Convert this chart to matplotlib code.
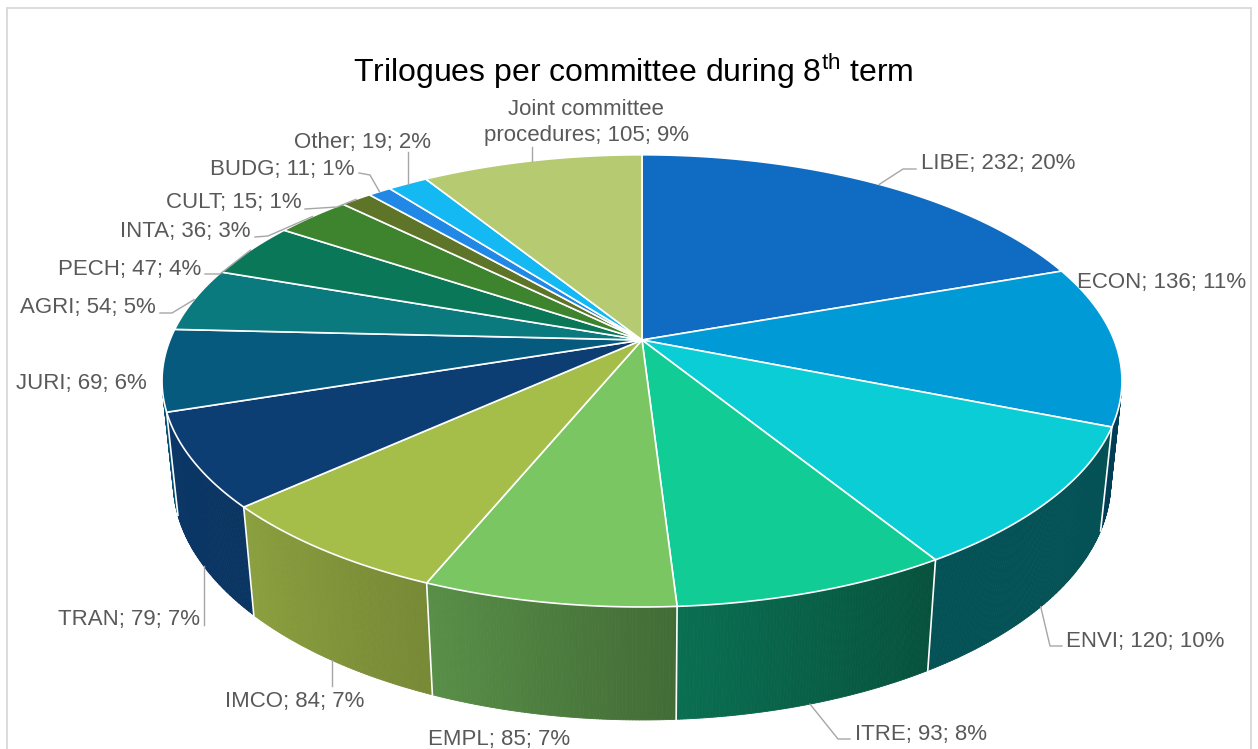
import numpy as np
import matplotlib.pyplot as plt
from matplotlib.collections import PolyCollection
from matplotlib.patches import Polygon
from matplotlib.colors import to_rgb

plt.rcParams['font.family'] = ['Liberation Sans', 'DejaVu Sans']
plt.rcParams['mathtext.fontset'] = 'custom'
plt.rcParams['mathtext.rm'] = 'Liberation Sans'

# trilogues per committee, clockwise from 12 o'clock
committees = ['LIBE', 'ECON', 'ENVI', 'ITRE', 'EMPL', 'IMCO', 'TRAN', 'JURI',
              'AGRI', 'PECH', 'INTA', 'CULT', 'BUDG', 'Other',
              'Joint committee\nprocedures']
trilogues = [232, 136, 120, 93, 85, 84, 79, 69, 54, 47, 36, 15, 11, 19, 105]

colors = ['#0f6cc2', '#009ad6', '#0bcdd6', '#12cc96', '#7ac663', '#a5be4a',
          '#0c3e74', '#055a7e', '#0a7a7e', '#0a7858', '#3e842e', '#5e7428',
          '#2288e6', '#14b8f2', '#b6ca72']

# label position (x, baseline y of last line), alignment and leader elbows
# (an elbow x of None means straight up/down from the anchor)
label_layout = {
    'LIBE': (921, 169, 'left', [(903, 169), (916, 169)]),
    'ECON': (1077, 288, 'left', []),
    'ENVI': (1066, 647, 'left', [(1050, 646), (1062, 646)]),
    'ITRE': (855, 740, 'left', [(838, 739), (850, 739)]),
    'EMPL': (499, 745, 'center', []),
    'IMCO': (295, 707, 'center', [(None, 686)]),
    'TRAN': (200, 625, 'right', [(None, 625)]),
    'JURI': (147, 389, 'right', []),
    'AGRI': (156, 313, 'right', [(172, 313), (160, 313)]),
    'PECH': (201, 275, 'right', [(220, 274), (205, 274)]),
    'INTA': (251, 237, 'right', [(268, 236), (255, 237)]),
    'CULT': (302, 208, 'right', [(337, 207), (305, 209)]),
    'BUDG': (355, 175, 'right', [(370, 175), (359, 173)]),
    'Other': (362, 148, 'center', [(None, 152)]),
    'Joint committee\nprocedures': (586, 141, 'center', [(None, 147)]),
}

# perspective camera for the tilted disc (pixel units)
cx, cy = 642, 340
F, D = 2313.0, 4.9
phi = np.radians(27.6)
thick = 0.242
cphi, sphi = np.cos(phi), np.sin(phi)


def project(theta, z=0.0):
    t = np.radians(theta)
    X, Y = np.sin(t), np.cos(t)
    depth = D + Y * cphi - z * sphi
    up = Y * sphi + z * cphi
    return cx + F * X / depth, cy - F * up / depth


def side_shade(theta):
    return np.interp(theta, [104, 148, 176, 202, 228, 257],
                     [0.40, 0.40, 0.54, 0.72, 0.84, 0.90])


total = sum(trilogues)
edges = np.concatenate([[0], np.cumsum(trilogues)]) / total * 360
vis0 = np.degrees(np.arccos(-1 / (D * cphi)))
vis1 = 360 - vis0

fig = plt.figure(figsize=(12.58, 7.49), dpi=100)
ax = fig.add_axes([0, 0, 1, 1])
ax.set_xlim(0, 1258)
ax.set_ylim(749, 0)
ax.axis('off')

# chart border
ax.plot([7, 7, 1251, 1251], [749, 8, 8, 749], color='#d9d9d9', lw=1.3,
        solid_joinstyle='miter')

# outer walls
quads, quad_cols = [], []
for i, col in enumerate(colors):
    a, b = max(edges[i], vis0), min(edges[i + 1], vis1)
    if a >= b:
        continue
    ts = np.linspace(a, b, max(int((b - a) * 3), 2))
    base = np.array(to_rgb(col))
    for t0, t1 in zip(ts[:-1], ts[1:]):
        p0, p1 = project(t0), project(t1)
        q0, q1 = project(t0, -thick), project(t1, -thick)
        quads.append([p0, p1, q1, q0])
        quad_cols.append(base * side_shade(0.5 * (t0 + t1)))
ax.add_collection(PolyCollection(quads, facecolors=quad_cols,
                                 edgecolors=quad_cols, lw=0.6, zorder=2))

for e in edges:
    if vis0 < e < vis1:
        (x0, y0), (x1, y1) = project(e), project(e, -thick)
        ax.plot([x0, x1], [y0, y1], color='white', lw=1.2, zorder=3)

# top face
for i, col in enumerate(colors):
    ts = np.linspace(edges[i], edges[i + 1], max(int(trilogues[i]), 4))
    pts = [(cx, cy)] + [project(t) for t in ts]
    ax.add_patch(Polygon(pts, closed=True, facecolor=col, edgecolor='white',
                         lw=1.2, joinstyle='round', zorder=4))

# data labels with leader lines
for i, name in enumerate(committees):
    value = trilogues[i]
    pct = int(np.floor(value / total * 100 + 0.5))
    tx, ty, ha, elbows = label_layout[name]
    mid = 0.5 * (edges[i] + edges[i + 1])
    anchor = project(mid, -thick) if vis0 < mid < vis1 else project(mid)
    if elbows:
        xs, ys = [anchor[0]], [anchor[1]]
        for ex, ey in elbows:
            xs.append(anchor[0] if ex is None else ex)
            ys.append(ey)
        ax.plot(xs, ys, color='#a6a6a6', lw=1.0, zorder=5)
    ax.text(tx, ty, f'{name}; {value}; {pct}%', ha=ha, va='baseline',
            multialignment='center', fontsize=16, color='#595959',
            linespacing=1.3, zorder=6)

ax.text(633, 82, r'Trilogues per committee during 8$^{\mathrm{th}}$ term',
        ha='center', va='baseline', fontsize=23, color='#000000')

fig.savefig('out.png', dpi=100)
